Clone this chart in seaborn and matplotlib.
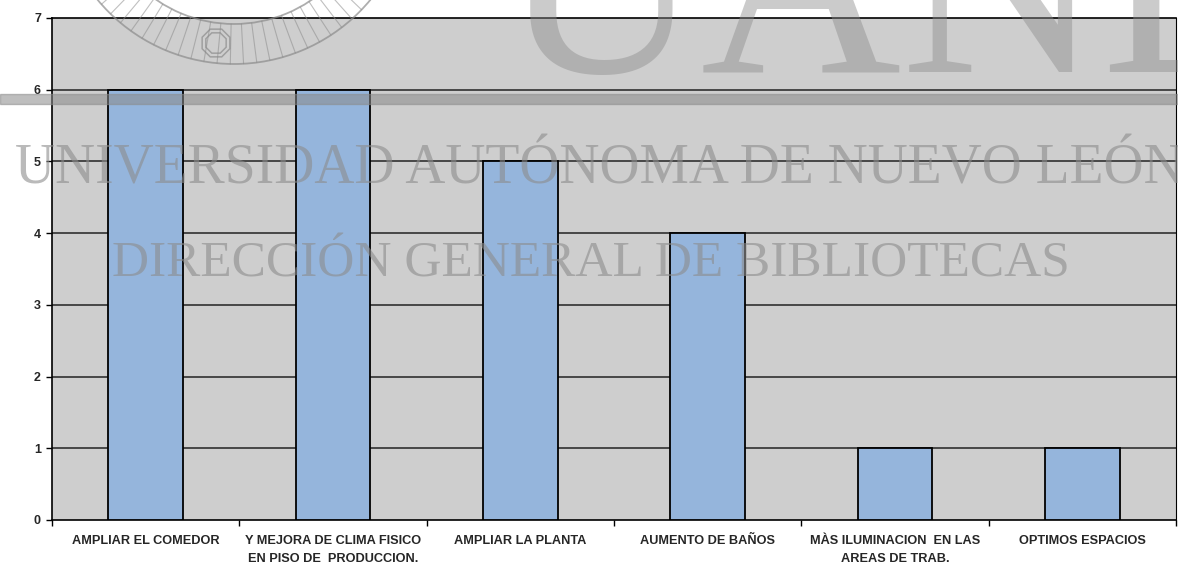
import numpy as np
import pandas as pd
import matplotlib
matplotlib.use("Agg")
import matplotlib.pyplot as plt
import seaborn as sns
from matplotlib.patches import Arc, RegularPolygon
from matplotlib.transforms import IdentityTransform

categories = [
    "AMPLIAR EL COMEDOR",
    "Y MEJORA DE CLIMA FISICO\nEN PISO DE  PRODUCCION.",
    "AMPLIAR LA PLANTA",
    "AUMENTO DE BAÑOS",
    "MÀS ILUMINACION  EN LAS\nAREAS DE TRAB.",
    "OPTIMOS ESPACIOS",
]
values = [6, 6, 5, 4, 1, 1]
y_ticks = [0, 1, 2, 3, 4, 5, 6, 7]

sns.set_theme(style="white")
plt.rcParams["font.family"] = ["Liberation Sans", "DejaVu Sans"]

W, H = 1178, 569
fig = plt.figure(figsize=(W / 100, H / 100), dpi=100)
fig.patch.set_facecolor("white")

ax = fig.add_axes([52 / W, 1 - 520 / H, 1124 / W, 502 / H])
ax.set_facecolor("#cecece")

df = pd.DataFrame({"cat": categories, "val": values})
sns.barplot(data=df, x="cat", y="val", ax=ax, color="#95b5dc", saturation=1,
            width=0.4, edgecolor="black", linewidth=1.3, zorder=3)

ax.set_ylim(0, 7)
ax.set_xlim(-0.5, len(categories) - 0.5)
ax.set_yticks(y_ticks)
for v in y_ticks[1:-1]:
    ax.axhline(v, color="#222222", lw=1.1, zorder=1)

ax.set_xlabel("")
ax.set_ylabel("")
ax.tick_params(axis="y", left=True, length=4, width=1, color="black", pad=4,
               labelsize=9)
ax.tick_params(axis="x", bottom=False, pad=5, labelsize=9.2)
for lab in ax.get_yticklabels():
    lab.set_fontweight("bold")
for lab in ax.get_xticklabels():
    lab.set_fontweight("bold")
    lab.set_linespacing(1.6)
ax.set_xticks(np.arange(-0.5, len(categories), 1.0), minor=True)
ax.tick_params(axis="x", which="minor", bottom=True, length=4, width=1,
               color="black", direction="out")

for s in ax.spines.values():
    s.set_visible(True)
    s.set_color("black")
    s.set_linewidth(1.2)
ax.spines["right"].set_linewidth(0.8)

# Scanned watermark of the source document
wm = "#8c8c8c"
fig.text(15 / W, 1 - 184 / H, "UNIVERSIDAD AUTÓNOMA DE NUEVO LEÓN",
         family="Liberation Serif", fontsize=40, color=wm, alpha=0.6,
         ha="left", va="baseline", zorder=10)
fig.text(591 / W, 1 - 277 / H, "DIRECCIÓN GENERAL DE BIBLIOTECAS",
         family="Liberation Serif", fontsize=37, color=wm, alpha=0.6,
         ha="center", va="baseline", zorder=10)
fig.text(500 / W, 1 - 72 / H, "UANL", family="Liberation Serif",
         fontsize=200, color=wm, alpha=0.45, ha="left", va="baseline",
         zorder=10)
band = plt.Rectangle((0, 1 - 104 / H), 1, 10 / H, transform=fig.transFigure,
                     color="#8a8a8a", alpha=0.55, zorder=10)
fig.patches.append(band)

# seal
cx, cy = 234, H + 113
for r in (177, 137):
    a = Arc((cx, cy), 2 * r, 2 * r, transform=IdentityTransform(),
            color=wm, lw=1.3, alpha=0.7, zorder=10)
    fig.patches.append(a)
for ang in np.arange(200, 341, 4.3):
    t = np.deg2rad(ang)
    xs = [cx + 137 * np.cos(t), cx + 177 * np.cos(t)]
    ys = [cy + 137 * np.sin(t), cy + 177 * np.sin(t)]
    fig.lines.append(plt.Line2D(xs, ys, transform=IdentityTransform(),
                                color=wm, lw=0.8, alpha=0.55, zorder=10))
for rad in (15, 11):
    oct_ = RegularPolygon((216, H - 43), 8, radius=rad, orientation=np.pi / 8,
                          transform=IdentityTransform(), fill=False, ec=wm,
                          lw=1.1, alpha=0.7, zorder=10)
    fig.patches.append(oct_)

fig.savefig("out.png", dpi=100)
